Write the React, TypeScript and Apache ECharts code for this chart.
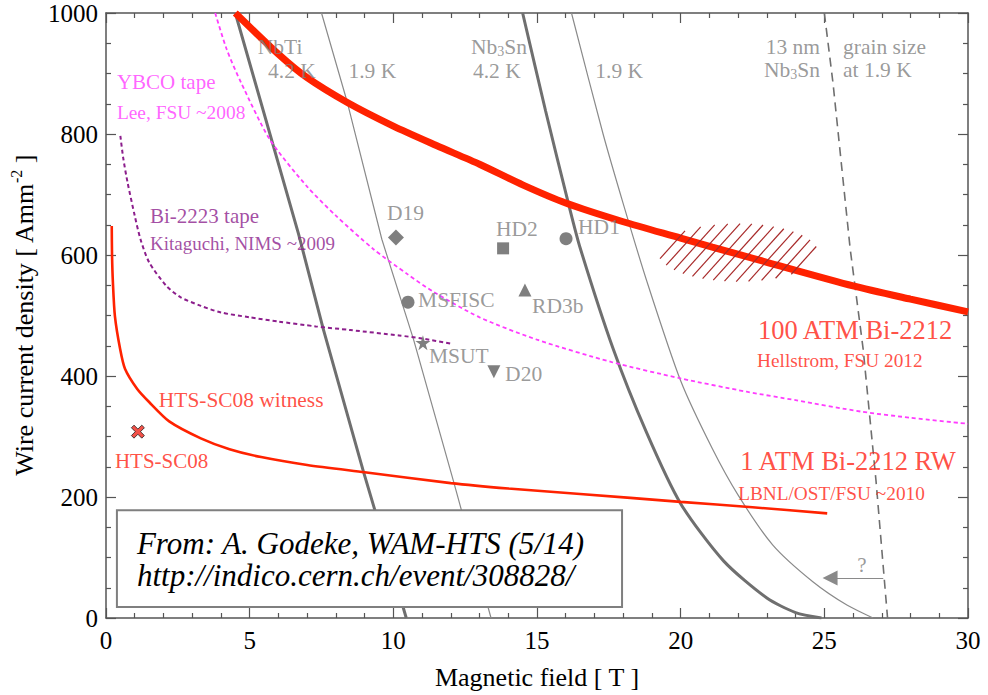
import React, { useEffect, useRef } from "react";
import * as echarts from "echarts";

const FONT = "Liberation Serif";
const GRAY = "#7f7f7f";
const RED = "#ff2200";
const TXT_RED = "#ff2414";
const MAGENTA = "#ff3cff";
const PURPLE = "#8c1e8c";

// ---- curves: [Magnetic field T, Jw A/mm2]
const bi2212_100atm: number[][] = [
  [4.5, 1000], [6, 932], [7, 893], [8.4, 852], [10, 813], [11.5, 781], [13, 750],
  [14.5, 716], [16, 686], [18, 655], [20, 628], [21.1, 613], [23, 588],
  [26, 549], [28, 527], [30, 506],
];
const bi2212_1atm: number[][] = [
  [0.2, 648], [0.21, 600], [0.24, 555], [0.31, 499], [0.49, 445], [0.66, 412],
  [1.08, 379], [1.5, 357], [2.2, 325], [3.3, 297], [4.3, 279],
  [5.4, 266], [7, 253], [9, 241], [12, 223], [14, 214], [16.5, 205],
  [20, 192], [22.5, 183], [25.1, 173],
];
const ybco: number[][] = [
  [3.8, 1000], [4.2, 940], [4.7, 885], [5.7, 791], [7, 713], [8, 665], [9.3, 610],
  [10.5, 568], [11.4, 539], [13, 497], [15, 460], [17.6, 423], [20, 396],
  [22.3, 374], [24, 360], [26.3, 341], [28, 331], [30, 321],
];
const bi2223: number[][] = [
  [0.5, 797], [0.6, 760], [0.75, 720], [1.0, 665], [1.2, 626], [1.5, 588],
  [2.1, 549], [2.6, 530], [3.3, 516], [4, 505], [5, 497], [6, 490], [7.3, 482],
  [8.5, 476], [10.2, 467], [11, 462], [12.05, 453],
];
const nbti42: number[][] = [[4.5, 1000], [6.7, 635], [7.56, 478], [8.96, 242], [9.36, 178], [10.45, 0]];
const nbti19: number[][] = [[7.5, 1000], [8.4, 852], [9.6, 626], [10.7, 461], [12.1, 225], [13.4, 0]];
const nb3sn42: number[][] = [
  [14.5, 1000], [15.3, 838], [16.1, 684], [16.5, 612], [17.65, 445], [18.8, 308],
  [20, 189], [21.5, 94], [23, 33], [24, 9], [24.9, 0],
];
const nb3sn19: number[][] = [
  [16.2, 1000], [17.3, 800], [18.0, 685], [18.8, 560], [20, 392], [21.1, 280],
  [22, 203], [23.2, 121], [24.6, 60], [25.8, 21], [26.7, 0],
];
const grain13nm: number[][] = [[25.0, 1000], [25.3, 885], [25.9, 610], [26.35, 445], [26.8, 226], [27.2, 0]];

// ---- measured conductors
const markerNames = ["D19", "HD2", "HD1", "MSFISC", "RD3b", "MSUT", "D20"];
const markerPoints: number[][] = [
  [10.09, 629], [13.82, 611], [16.01, 627], [10.51, 522], [14.58, 542], [11.03, 455], [13.5, 407],
];
const markerLabelPoints: number[][] = [
  [9.78, 669], [13.57, 643], [16.43, 646], [10.86, 526], [14.83, 516], [11.24, 433], [13.89, 404],
];
const htsSc08Point: number[] = [1.11, 308];

// ---- hatched target region: centre x, centre y, half-width (T), half-height (A/mm2)
const targetRegion: number[] = [22.0, 604, 2.78, 48];

// ---- "?" arrow
const arrowFrom: number[] = [27.05, 66];
const arrowTo: number[] = [25.2, 66];

// ---- note box: x0, y0, x1, y1
const noteBox: number[] = [0.38, 178, 17.96, 18];
const noteLines = ["From: A. Godeke, WAM-HTS (5/14)", "http://indico.cern.ch/event/308828/"];

// ---- annotations
const annotationTexts = [
  "NbTi", "4.2 K", "1.9 K", "Nb{sub|3}Sn", "4.2 K", "1.9 K",
  "13 nm", "Nb{sub|3}Sn", "grain size", "at 1.9 K",
  "YBCO tape", "Lee, FSU ~2008", "Bi-2223 tape", "Kitaguchi, NIMS ~2009",
  "HTS-SC08 witness", "HTS-SC08",
  "100 ATM Bi-2212", "Hellstrom, FSU 2012", "1 ATM Bi-2212 RW", "LBNL/OST/FSU ~2010", "?",
];
const annotationPoints: number[][] = [
  [6.06, 944], [6.47, 904], [9.27, 904], [13.68, 944], [13.6, 904], [17.86, 904],
  [24.85, 944], [24.85, 906], [25.65, 944], [25.65, 906],
  [0.38, 886], [0.38, 835], [1.53, 664], [1.53, 619],
  [1.84, 361], [0.31, 259],
  [22.69, 476], [22.66, 425], [22.07, 259], [22.0, 206], [26.31, 87],
];
const annotationAlign = [
  "center", "center", "center", "center", "center", "center",
  "right", "right", "left", "left",
  "left", "left", "left", "left", "left", "left",
  "left", "left", "left", "left", "center",
];
const annotationSize = [
  21.5, 21.5, 21.5, 21.5, 21.5, 21.5,
  21.5, 21.5, 21.5, 21.5,
  21, 19.4, 21, 19, 21.4, 21,
  26.5, 19.3, 26.5, 19.3, 21,
];
const annotationColor = [
  GRAY, GRAY, GRAY, GRAY, GRAY, GRAY,
  GRAY, GRAY, GRAY, GRAY,
  MAGENTA, MAGENTA, PURPLE, PURPLE, TXT_RED, TXT_RED,
  TXT_RED, TXT_RED, TXT_RED, TXT_RED, GRAY,
];

const STAR = "path://M50,0 L61,35 L98,35 L68,57 L79,91 L50,70 L21,91 L32,57 L2,35 L39,35 Z";
const CROSS = "path://M20,0 L50,30 L80,0 L100,20 L70,50 L100,80 L80,100 L50,70 L20,100 L0,80 L30,50 L0,20 Z";
const markerSymbol = ["diamond", "rect", "circle", "circle", "triangle", STAR, "triangle"];
const markerSize = [16, 12, 13, 13, 13, 15, 13];
const markerRotate = [0, 0, 0, 0, 0, 0, 180];

function curve(name: string, data: number[][], color: string, width: number, type: any = "solid", smooth: any = 0.25) {
  return {
    name,
    type: "line",
    data,
    showSymbol: false,
    symbol: "none",
    smooth,
    z: 2,
    lineStyle: { color, width, type },
    silent: true,
  };
}

const axisCommon = {
  type: "value",
  axisLine: { show: true, onZero: false, lineStyle: { color: "#555", width: 1.5 } },
  axisTick: { show: true, inside: true, length: 10, lineStyle: { color: "#555", width: 1.2 } },
  minorTick: { show: true, length: 5, lineStyle: { color: "#555", width: 1.2 } },
  splitLine: { show: false },
};

export default function App() {
  const ref = useRef<HTMLDivElement>(null);
  useEffect(() => {
    if (!ref.current) return;
    const chart = echarts.init(ref.current, null, { renderer: "svg" });
    const option: any = {
      animation: false,
      backgroundColor: "#fff",
      textStyle: { fontFamily: FONT },
      grid: { left: 106, right: 20, top: 13, bottom: 75, containLabel: false },
      xAxis: [
        {
          ...axisCommon,
          min: 0, max: 30, interval: 5, position: "bottom",
          minorTick: { ...axisCommon.minorTick, splitNumber: 5 },
          axisLabel: { color: "#000", fontSize: 25, fontFamily: FONT, margin: 10 },
          name: "Magnetic field [ T ]",
          nameLocation: "middle",
          nameGap: 46,
          nameTextStyle: { color: "#000", fontSize: 26, fontFamily: FONT },
        },
        {
          ...axisCommon,
          min: 0, max: 30, interval: 5, position: "top",
          minorTick: { ...axisCommon.minorTick, splitNumber: 5 },
          axisLabel: { show: false },
        },
      ],
      yAxis: [
        {
          ...axisCommon,
          min: 0, max: 1000, interval: 200, position: "left",
          minorTick: { ...axisCommon.minorTick, splitNumber: 4 },
          axisLabel: { color: "#000", fontSize: 25, fontFamily: FONT, margin: 8, formatter: (v: number) => String(v) },
          name: "{a|Wire current density [ Amm}{s|-2}{a| ]}",
          nameLocation: "middle",
          nameGap: 58,
          nameTextStyle: {
            fontFamily: FONT,
            fontSize: 26,
            rich: {
              a: { color: "#000", fontSize: 26, fontFamily: FONT, lineHeight: 32, verticalAlign: "middle" },
              s: { color: "#000", fontSize: 16, fontFamily: FONT, lineHeight: 16, verticalAlign: "top" },
            },
          },
        },
        {
          ...axisCommon,
          min: 0, max: 1000, interval: 200, position: "right",
          minorTick: { ...axisCommon.minorTick, splitNumber: 4 },
          axisLabel: { show: false },
        },
      ],
      series: [
        curve("NbTi 4.2 K", nbti42, "#6f6f6f", 3, "solid", false),
        curve("NbTi 1.9 K", nbti19, "#8a8a8a", 1.2, "solid", false),
        curve("Nb3Sn 4.2 K", nb3sn42, "#6f6f6f", 3),
        curve("Nb3Sn 1.9 K", nb3sn19, "#8a8a8a", 1.2),
        curve("13 nm grain", grain13nm, "#6f6f6f", 1.6, [9, 6], false),
        curve("YBCO tape", ybco, MAGENTA, 1.8, [4, 3]),
        curve("Bi-2223 tape", bi2223, PURPLE, 2, [4, 3]),
        curve("1 ATM Bi-2212 RW", bi2212_1atm, RED, 2.6),
        curve("100 ATM Bi-2212", bi2212_100atm, RED, 7),
        {
          name: "target",
          type: "custom",
          z: 3,
          silent: true,
          data: [targetRegion],
          encode: { x: 0, y: 1 },
          renderItem: (params: any, api: any) => {
            const c = api.coord([api.value(0), api.value(1)]);
            const s = api.size([api.value(2), api.value(3)]);
            const rx = s[0], ry = s[1];
            const ang = (48 * Math.PI) / 180;
            const d = [Math.cos(ang), -Math.sin(ang)];
            const n = [Math.sin(ang), Math.cos(ang)];
            const spacing = 9;
            const ext = Math.sqrt((rx * n[0]) ** 2 + (ry * n[1]) ** 2);
            const kmax = Math.floor(ext / spacing);
            const children: any[] = [];
            for (let k = -kmax; k <= kmax; k++) {
              const o = [k * spacing * n[0], k * spacing * n[1]];
              const A = (d[0] / rx) ** 2 + (d[1] / ry) ** 2;
              const B = 2 * ((o[0] * d[0]) / (rx * rx) + (o[1] * d[1]) / (ry * ry));
              const C = (o[0] / rx) ** 2 + (o[1] / ry) ** 2 - 1;
              const disc = B * B - 4 * A * C;
              if (disc <= 0) continue;
              const t1 = (-B - Math.sqrt(disc)) / (2 * A);
              const t2 = (-B + Math.sqrt(disc)) / (2 * A);
              children.push({
                type: "line",
                shape: {
                  x1: c[0] + o[0] + t1 * d[0], y1: c[1] + o[1] + t1 * d[1],
                  x2: c[0] + o[0] + t2 * d[0], y2: c[1] + o[1] + t2 * d[1],
                },
                style: { stroke: "#a82a2a", lineWidth: 1.2 },
              });
            }
            return { type: "group", children };
          },
        },
        {
          name: "arrow",
          type: "lines",
          coordinateSystem: "cartesian2d",
          z: 3,
          silent: true,
          symbol: ["none", "triangle"],
          symbolSize: 15,
          lineStyle: { color: "#8a8a8a", width: 1.2, opacity: 1 },
          itemStyle: { color: "#7a7a7a" },
          data: [{ coords: [arrowFrom, arrowTo] }],
        },
        {
          name: "note",
          type: "custom",
          z: 6,
          silent: true,
          data: [noteBox],
          encode: { x: [0, 2], y: [1, 3] },
          renderItem: (params: any, api: any) => {
            const p0 = api.coord([api.value(0), api.value(1)]);
            const p1 = api.coord([api.value(2), api.value(3)]);
            const children: any[] = [
              {
                type: "rect",
                shape: { x: p0[0], y: p0[1], width: p1[0] - p0[0], height: p1[1] - p0[1] },
                style: { fill: "#fff", stroke: "#7f7f7f", lineWidth: 2 },
              },
            ];
            noteLines.forEach((t, i) => {
              children.push({
                type: "text",
                x: p0[0] + 20,
                y: p0[1] + 33 + i * 32,
                style: {
                  text: t,
                  fill: "#000",
                  fontSize: 31,
                  fontStyle: "italic",
                  fontFamily: FONT,
                  align: "left",
                  verticalAlign: "middle",
                },
              });
            });
            return { type: "group", children };
          },
        },
        {
          name: "conductors",
          type: "scatter",
          z: 7,
          silent: true,
          data: markerPoints.map((p, i) => ({
            name: markerNames[i],
            value: p,
            symbol: markerSymbol[i],
            symbolSize: markerSize[i],
            symbolRotate: markerRotate[i],
          })),
          itemStyle: { color: GRAY, opacity: 1 },
        },
        {
          name: "HTS-SC08",
          type: "scatter",
          z: 7,
          silent: true,
          data: [htsSc08Point],
          symbol: CROSS,
          symbolSize: 13,
          itemStyle: { color: "#f0261a", borderColor: "#222", borderWidth: 1 },
        },
        {
          name: "conductor labels",
          type: "scatter",
          z: 8,
          silent: true,
          symbolSize: 0,
          data: markerLabelPoints.map((p, i) => ({ name: markerNames[i], value: p })),
          label: {
            show: true,
            position: "inside",
            align: "left",
            verticalAlign: "middle",
            formatter: (p: any) => p.name,
            color: GRAY,
            fontSize: 21.5,
            fontFamily: FONT,
          },
        },
        {
          name: "annotations",
          type: "scatter",
          z: 8,
          silent: true,
          symbolSize: 0,
          data: annotationPoints.map((p, i) => ({
            name: annotationTexts[i],
            value: p,
            label: {
              align: annotationAlign[i],
              color: annotationColor[i],
              fontSize: annotationSize[i],
              rich: {
                sub: {
                  fontSize: Math.round(annotationSize[i] * 0.65),
                  fontFamily: FONT,
                  color: annotationColor[i],
                  verticalAlign: "bottom",
                  lineHeight: 13,
                },
              },
            },
          })),
          label: {
            show: true,
            position: "inside",
            verticalAlign: "middle",
            formatter: (p: any) => p.name,
            fontFamily: FONT,
            lineHeight: 24,
          },
        },
      ],
    };
    chart.setOption(option);
    return () => chart.dispose();
  }, []);
  return <div ref={ref} style={{ width: 988, height: 695, position: "absolute", left: 0, top: 0 }} />;
}
